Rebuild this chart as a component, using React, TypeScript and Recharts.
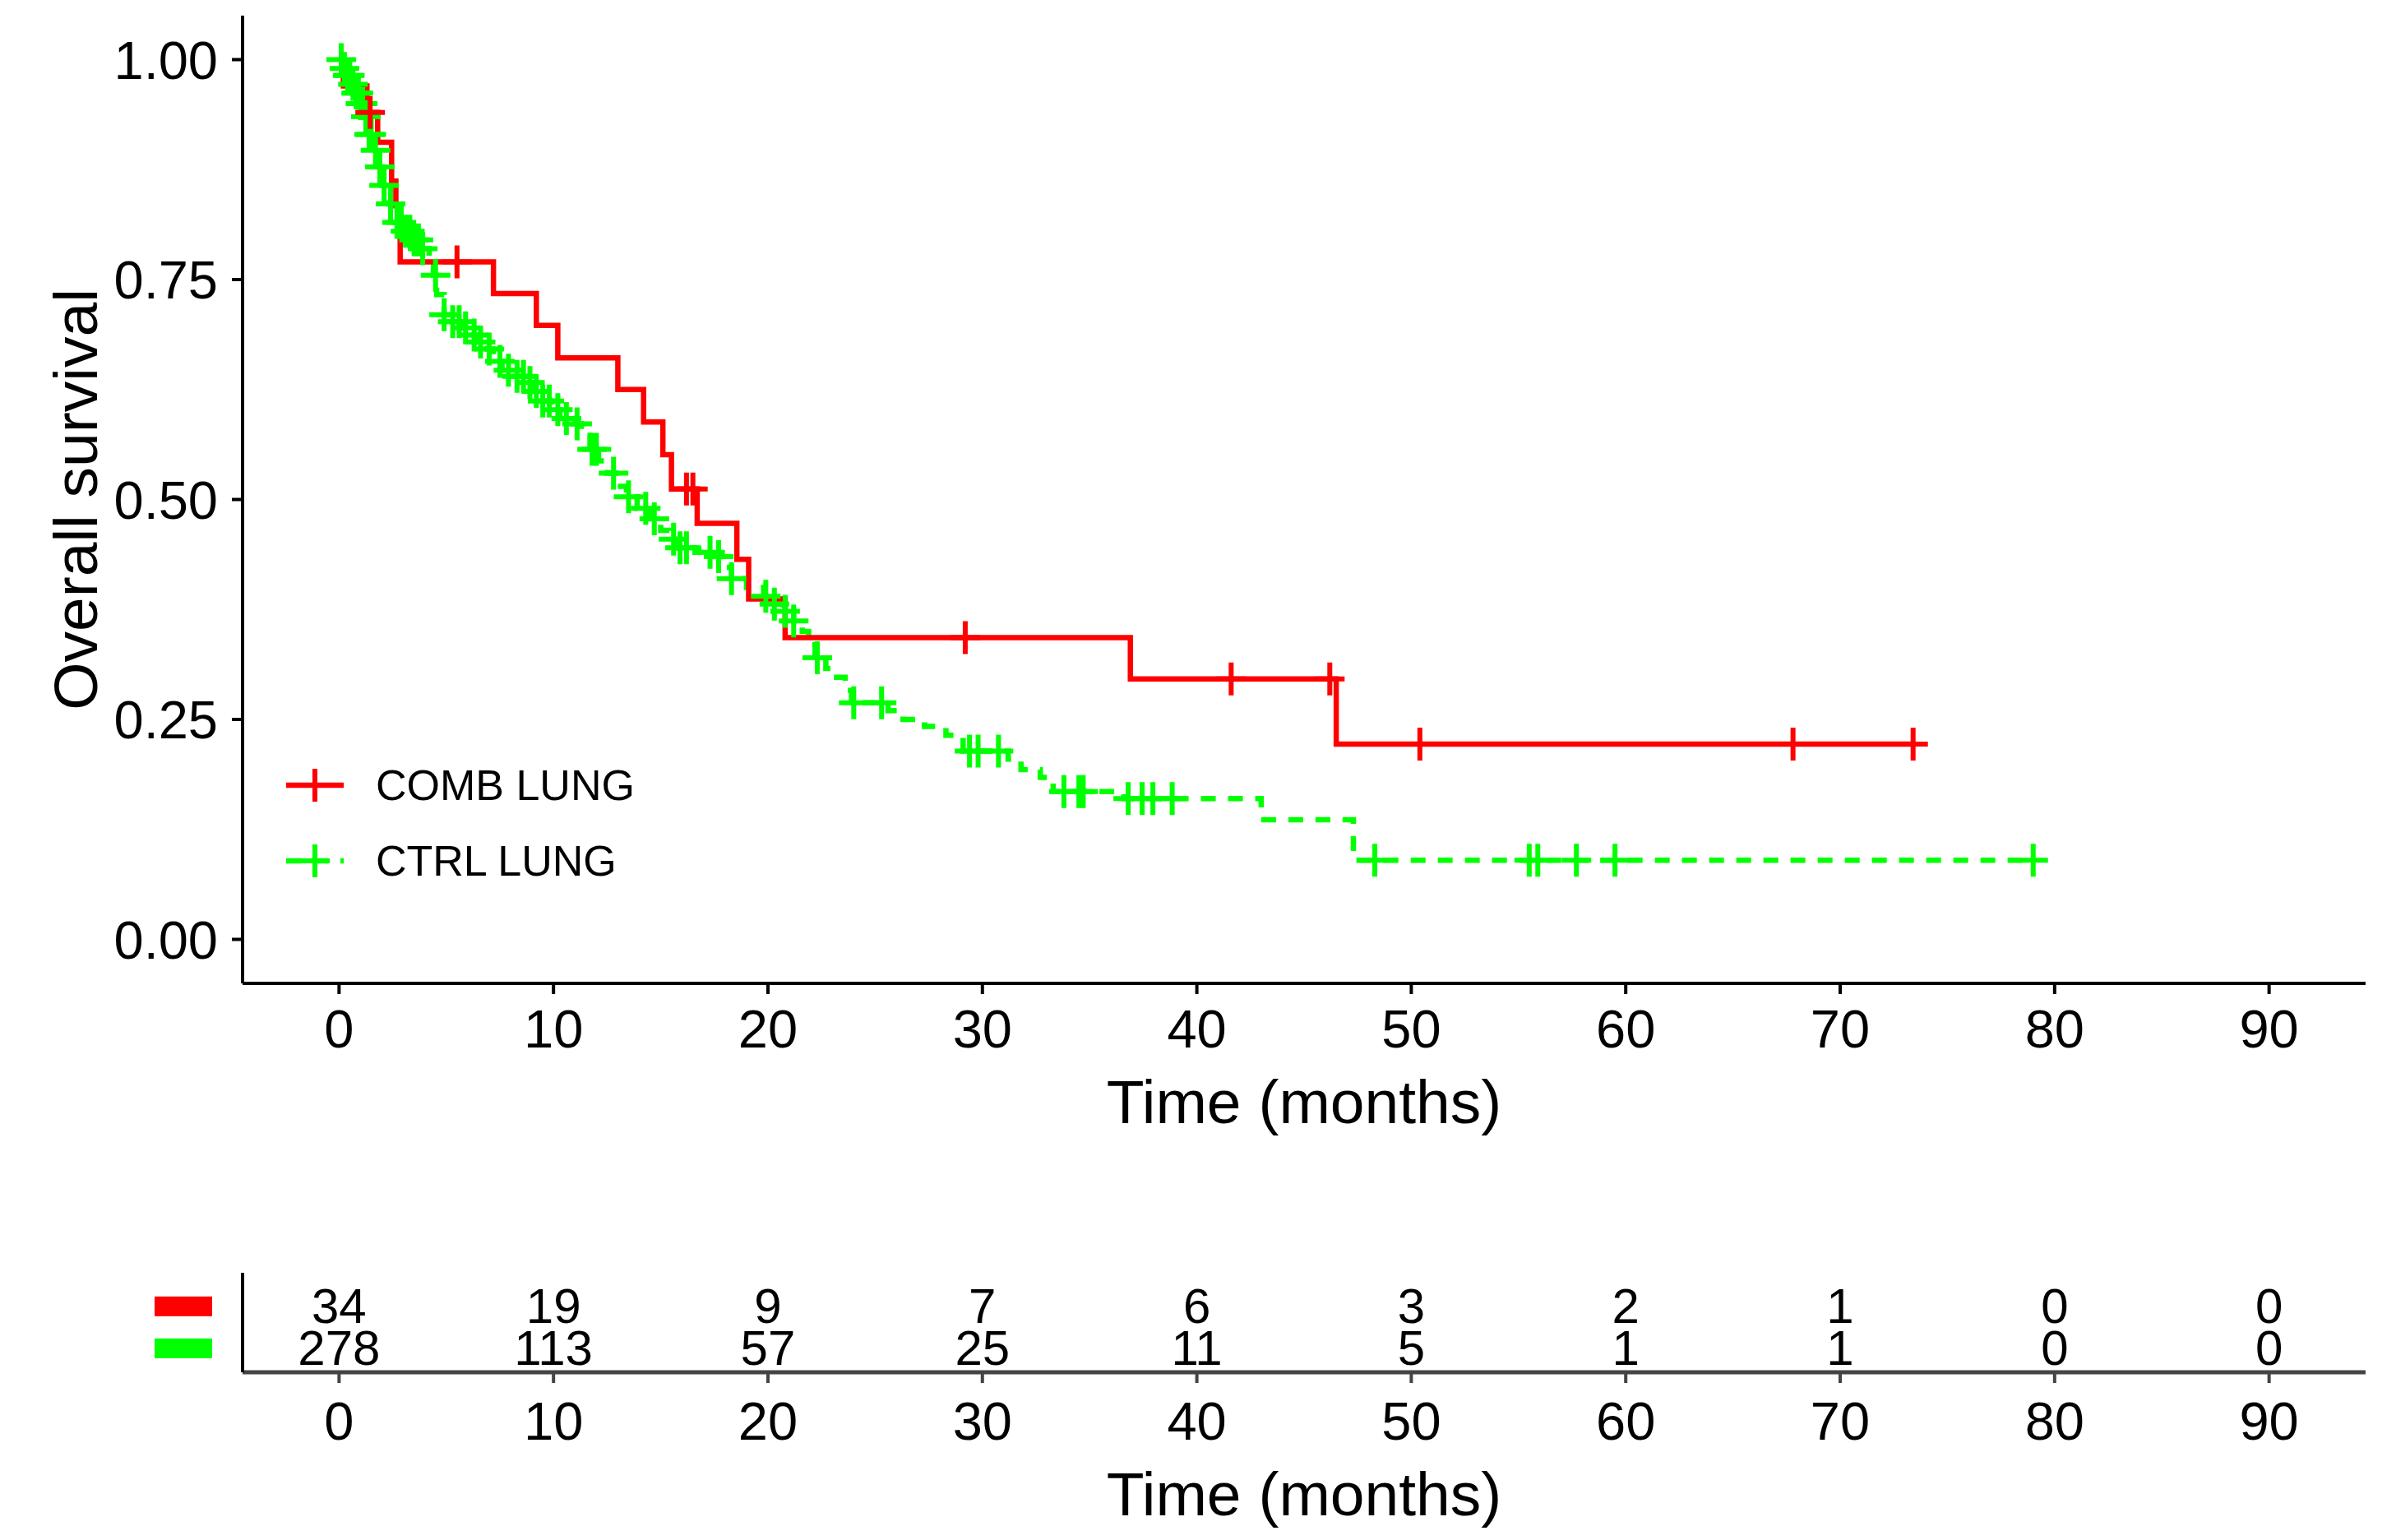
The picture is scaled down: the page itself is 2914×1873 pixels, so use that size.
import React from "react";
import { ComposedChart, Line, Scatter, XAxis, YAxis, Legend } from "recharts";

const FONT = "'Liberation Sans', Arial, Helvetica, sans-serif";
const RED = "#FF0000";
const GREEN = "#00FF00";
const DASH = "18 15";

// ---- data ----
const xTicks = [0, 10, 20, 30, 40, 50, 60, 70, 80, 90];
const yTicks = [0, 0.25, 0.5, 0.75, 1];

// COMB LUNG Kaplan-Meier steps [time, survival]
const combSteps: [number, number][] = [
  [0, 1.0], [0.2, 0.97], [1.3, 0.94], [1.8, 0.906], [2.45, 0.862], [2.65, 0.835],
  [2.85, 0.77], [7.2, 0.734], [9.2, 0.698], [10.2, 0.661], [13.0, 0.625],
  [14.2, 0.588], [15.1, 0.551], [15.5, 0.512], [16.7, 0.473], [18.55, 0.432],
  [19.1, 0.387], [20.8, 0.343], [36.9, 0.296], [46.5, 0.222], [73.4, 0.222],
];
const combCensor = [1.45, 5.5, 16.2, 16.5, 29.2, 41.6, 46.2, 50.4, 67.8, 73.4];

// CTRL LUNG Kaplan-Meier steps [time, survival]
const ctrlSteps: [number, number][] = [
  [0, 1.0], [0.15, 0.99], [0.35, 0.982], [0.55, 0.972], [0.75, 0.962], [0.95, 0.95],
  [1.15, 0.935], [1.35, 0.915], [1.55, 0.897], [1.75, 0.878], [2.0, 0.857],
  [2.3, 0.836], [2.6, 0.815], [3.0, 0.805], [3.4, 0.795], [3.8, 0.785],
  [4.2, 0.771], [4.4, 0.755], [4.55, 0.733], [4.9, 0.71], [5.3, 0.702],
  [5.7, 0.695], [6.1, 0.687], [6.5, 0.679], [6.9, 0.671], [7.2, 0.657],
  [7.6, 0.647], [8.1, 0.64], [8.7, 0.633], [9.1, 0.623], [9.5, 0.612],
  [9.9, 0.602], [10.3, 0.592], [10.9, 0.586], [11.3, 0.573], [11.7, 0.557],
  [12.1, 0.544], [12.5, 0.53], [12.9, 0.515], [13.4, 0.503], [13.9, 0.49],
  [14.5, 0.478], [15.0, 0.465], [15.4, 0.455], [15.8, 0.445], [16.6, 0.44],
  [17.5, 0.435], [17.9, 0.423], [18.3, 0.41], [19.0, 0.4], [19.8, 0.39],
  [20.3, 0.381], [20.7, 0.373], [21.2, 0.362], [21.6, 0.35], [21.9, 0.335],
  [22.2, 0.32], [22.7, 0.308], [23.2, 0.298], [23.6, 0.283], [23.9, 0.269],
  [25.6, 0.26], [26.3, 0.25], [27.3, 0.242], [28.3, 0.232], [29.1, 0.214],
  [31.2, 0.205], [31.8, 0.193], [32.7, 0.184], [33.3, 0.168], [36.6, 0.16],
  [43.0, 0.136], [47.3, 0.09], [79.0, 0.09],
];
const ctrlCensor = [
  0.1, 0.25, 0.4, 0.5, 0.65, 0.8, 0.9, 1.0, 1.1, 1.25, 1.4, 1.5, 1.7, 1.9, 2.1,
  2.4, 2.7, 2.9, 3.1, 3.3, 3.5, 3.7, 3.9, 4.5, 4.9, 5.3, 5.6, 5.9, 6.3, 6.6, 7.0,
  7.5, 7.9, 8.3, 8.6, 8.9, 9.2, 9.5, 9.8, 10.2, 10.6, 11.1, 11.8, 12.0, 12.8,
  13.5, 14.3, 14.7, 15.6, 15.9, 16.2, 17.3, 17.7, 18.3, 19.9, 20.3, 20.8, 21.2,
  22.3, 24.0, 25.3, 29.4, 29.8, 30.75, 33.8, 34.5, 34.7, 36.8, 37.45, 37.95,
  38.85, 48.3, 55.5, 55.9, 57.7, 59.5, 79.0,
];

// number at risk
const riskTimes = [0, 10, 20, 30, 40, 50, 60, 70, 80, 90];
const riskComb = [34, 19, 9, 7, 6, 3, 2, 1, 0, 0];
const riskCtrl = [278, 113, 57, 25, 11, 5, 1, 1, 0, 0];

const legendItems = [
  { name: "COMB LUNG", color: RED, dashed: false },
  { name: "CTRL LUNG", color: GREEN, dashed: true },
];

// ---- derived tables ----
const toRows = (steps: [number, number][]) => steps.map(([t, s]) => ({ t, s }));
const survAt = (steps: [number, number][], t: number) => {
  let v = steps[0][1];
  for (const [st, s] of steps) if (st <= t) v = s;
  return v;
};
const combCurve = toRows(combSteps);
const ctrlCurve = toRows(ctrlSteps);
const combMarks = combCensor.map((t) => ({ t, s: survAt(combSteps, t) }));
const ctrlMarks = ctrlCensor.map((t) => ({ t, s: survAt(ctrlSteps, t) }));
const riskRows = [
  ...riskTimes.map((t, i) => ({ t, row: 2, n: riskComb[i] })),
  ...riskTimes.map((t, i) => ({ t, row: 1, n: riskCtrl[i] })),
];
const rowColor: Record<number, string> = { 2: RED, 1: GREEN };

const plusShape = (color: string) => (props: any) => {
  const { cx, cy } = props;
  if (cx == null || cy == null) return <g />;
  return (
    <path
      d={`M${cx - 18},${cy}H${cx + 18}M${cx},${cy - 20}V${cy + 20}`}
      stroke={color}
      strokeWidth={6}
      fill="none"
    />
  );
};

const riskText = (props: any) => {
  const { cx, cy, payload } = props;
  if (cx == null || cy == null) return <g />;
  return (
    <text
      x={cx}
      y={cy}
      textAnchor="middle"
      dominantBaseline="central"
      fontSize={60}
      fontFamily={FONT}
      fill="#000"
    >
      {payload.n}
    </text>
  );
};

const riskTick = (props: any) => {
  const { x, y, payload } = props;
  return <rect x={x - 70} y={y - 12} width={70} height={24} fill={rowColor[payload.value]} />;
};

const yLabel = (props: any) => {
  const vb = props.viewBox || {};
  const cx = (vb.x ?? 0) + 92;
  const cy = (vb.y ?? 19) + (vb.height ?? 1177) / 2;
  return (
    <text
      x={cx}
      y={cy}
      transform={`rotate(-90, ${cx}, ${cy})`}
      textAnchor="middle"
      dominantBaseline="central"
      fontSize={75}
      fontFamily={FONT}
      fill="#000"
    >
      Overall survival
    </text>
  );
};

const LegendBox = () => (
  <svg width={600} height={180}>
    {legendItems.map((it, i) => {
      const y = 40 + i * 92;
      return (
        <g key={it.name}>
          <line
            x1={18}
            x2={88}
            y1={y}
            y2={y}
            stroke={it.color}
            strokeWidth={6.5}
            strokeDasharray={it.dashed ? DASH : undefined}
          />
          <path d={`M35,${y}H71M53,${y - 20}V${y + 20}`} stroke={it.color} strokeWidth={6} />
          <text x={127} y={y} dominantBaseline="central" fontSize={52} fontFamily={FONT} fill="#000">
            {it.name}
          </text>
        </g>
      );
    })}
  </svg>
);

const tickStyle = { fontSize: 65, fill: "#000", fontFamily: FONT };
const axisStroke = { stroke: "#000", strokeWidth: 4 };

export default function App() {
  return (
    <div style={{ position: "absolute", left: 0, top: 0, width: 2914, height: 1873, background: "#fff" }}>
      <div style={{ position: "absolute", left: 0, top: 0 }}>
        <ComposedChart width={2914} height={1400} margin={{ top: 19, right: 37, left: 0, bottom: 0 }}>
          <XAxis
            type="number"
            dataKey="t"
            domain={[-4.5, 94.5]}
            ticks={xTicks}
            allowDataOverflow
            height={204}
            tick={tickStyle}
            tickSize={13}
            tickMargin={19}
            axisLine={axisStroke}
            tickLine={axisStroke}
            label={{
              value: "Time (months)",
              position: "insideBottom",
              offset: 34,
              fontSize: 75,
              fill: "#000",
              fontFamily: FONT,
            }}
          />
          <YAxis
            type="number"
            dataKey="s"
            domain={[-0.05, 1.05]}
            ticks={yTicks}
            allowDataOverflow
            width={295}
            tick={tickStyle}
            tickSize={13}
            tickMargin={17}
            tickFormatter={(v: number) => v.toFixed(2)}
            axisLine={axisStroke}
            tickLine={axisStroke}
            label={{ content: yLabel }}
          />
          <Line
            data={ctrlCurve}
            dataKey="s"
            type="stepAfter"
            stroke={GREEN}
            strokeWidth={6.5}
            strokeDasharray={DASH}
            dot={false}
            activeDot={false}
            isAnimationActive={false}
            legendType="none"
          />
          <Line
            data={combCurve}
            dataKey="s"
            type="stepAfter"
            stroke={RED}
            strokeWidth={6.5}
            dot={false}
            activeDot={false}
            isAnimationActive={false}
            legendType="none"
          />
          <Scatter data={ctrlMarks} dataKey="s" shape={plusShape(GREEN)} isAnimationActive={false} legendType="none" />
          <Scatter data={combMarks} dataKey="s" shape={plusShape(RED)} isAnimationActive={false} legendType="none" />
          <Legend
            layout="vertical"
            align="center"
            verticalAlign="middle"
            content={() => <LegendBox />}
            wrapperStyle={{ position: "absolute", left: 330, top: 915, width: 600, height: 180 }}
          />
        </ComposedChart>
      </div>
      <div style={{ position: "absolute", left: 0, top: 1400 }}>
        <ComposedChart width={2914} height={473} margin={{ top: 148, right: 37, left: 0, bottom: 0 }}>
          <XAxis
            type="number"
            dataKey="t"
            domain={[-4.5, 94.5]}
            ticks={xTicks}
            allowDataOverflow
            height={204}
            tick={tickStyle}
            tickSize={13}
            tickMargin={23}
            axisLine={{ stroke: "#444", strokeWidth: 5 }}
            tickLine={{ stroke: "#444", strokeWidth: 4 }}
            label={{
              value: "Time (months)",
              position: "insideBottom",
              offset: 30,
              fontSize: 75,
              fill: "#000",
              fontFamily: FONT,
            }}
          />
          <YAxis
            type="number"
            dataKey="row"
            domain={[0.43, 2.8]}
            ticks={[1, 2]}
            allowDataOverflow
            width={295}
            tick={riskTick}
            tickSize={0}
            tickMargin={37}
            tickLine={false}
            axisLine={axisStroke}
          />
          <Scatter data={riskRows} dataKey="row" shape={riskText} isAnimationActive={false} legendType="none" />
        </ComposedChart>
      </div>
    </div>
  );
}
